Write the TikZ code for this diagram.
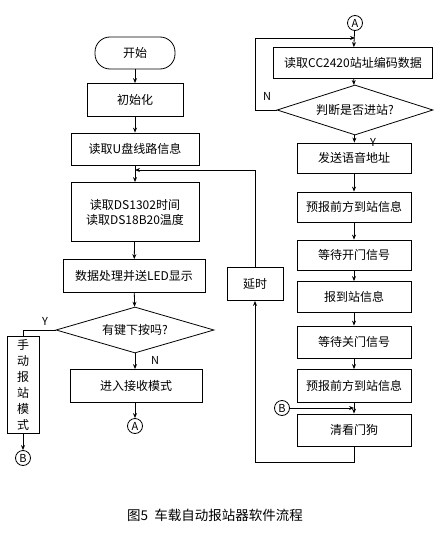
\documentclass[tikz,border=0pt]{standalone}
\usepackage{fontspec}
\setmainfont{Noto Sans CJK SC}
\usetikzlibrary{shapes.geometric,arrows.meta,calc}
\tikzset{
  base/.style={draw, line width=0.8pt, inner sep=0pt, font=\fontsize{12}{15}\selectfont, align=center},
  procbox/.style={base, rectangle},
  termbox/.style={base, rectangle, rounded corners=15pt},
  decbox/.style={base, diamond, aspect=3.4},
  conn/.style={base, circle, minimum size=15pt, font=\fontsize{11}{12}\selectfont},
  flow/.style={line width=0.8pt, -{Stealth[length=5pt,width=4pt]}},
  plain/.style={line width=0.8pt},
  lbl/.style={font=\fontsize{11}{12}\selectfont, inner sep=1pt}
}
\begin{document}
\begin{tikzpicture}[x=1pt,y=-1pt]
\useasboundingbox[fill=white] (0,0) rectangle (441,535);
% left column
\node[termbox, minimum width=80pt, minimum height=32pt] (start) at (135,53) {开始};
\node[procbox, minimum width=96pt, minimum height=33pt] (init) at (135,100) {初始化};
\node[procbox, minimum width=128pt, minimum height=32pt] (udisk) at (135,149) {读取U盘线路信息};
\node[procbox, minimum width=128pt, minimum height=59pt] (ds) at (135,212) {读取DS1302时间\\读取DS18B20温度};
\node[procbox, minimum width=142pt, minimum height=33pt] (led) at (134,276) {数据处理并送LED显示};
\node[decbox, minimum width=158pt, minimum height=46pt] (key) at (135,330) {有键下按吗?};
\node[procbox, minimum width=132pt, minimum height=33pt] (recv) at (136,386) {进入接收模式};
\node[conn] (A1) at (135,426) {A};
\node[procbox, minimum width=32pt, minimum height=97pt, font=\fontsize{12}{16}\selectfont] (manual) at (23,385) {手\\动\\报\\站\\模\\式};
\node[conn] (B1) at (23,458) {B};
% right column
\node[conn] (A2) at (355,23) {A};
\node[procbox, minimum width=159pt, minimum height=31pt] (cc) at (353,63) {读取CC2420站址编码数据};
\node[decbox, minimum width=156pt, minimum height=50pt] (enter) at (355,110) {判断是否进站?};
\node[procbox, minimum width=114pt, minimum height=30pt] (voice) at (354,158) {发送语音地址};
\node[procbox, minimum width=114pt, minimum height=30pt] (pre1) at (354,207) {预报前方到站信息};
\node[procbox, minimum width=114pt, minimum height=30pt] (open) at (354,255) {等待开门信号};
\node[procbox, minimum width=114pt, minimum height=31pt] (arrive) at (354,297) {报到站信息};
\node[procbox, minimum width=114pt, minimum height=32pt] (close) at (354,342) {等待关门信号};
\node[procbox, minimum width=114pt, minimum height=33pt] (pre2) at (354,386) {预报前方到站信息};
\node[procbox, minimum width=114pt, minimum height=32pt] (wdog) at (354,430) {清看门狗};
\node[procbox, minimum width=56pt, minimum height=33pt] (delay) at (255,284) {延时};
\node[conn] (B2) at (282,408) {B};
% caption
\node[font=\fontsize{13.5}{15}\selectfont, inner sep=0pt] (cap) at (215,515) {图5\ \ 车载自动报站器软件流程};
% labels
\node[lbl] (ylbl1) at (45,321) {Y};
\node[lbl] (nlbl1) at (155,360) {N};
\node[lbl] (nlbl2) at (267,96) {N};
\node[lbl] (ylbl2) at (373,142) {Y};
% junction coordinates
\coordinate (jA) at (355,38);
\coordinate (jB) at (354,408);
\coordinate (jD) at (135,170);
\coordinate (bot) at (354,462);
\coordinate (loopx) at (255,0);
% left connectors
\draw[flow] (start) -- (init);
\draw[flow] (init) -- (udisk);
\draw[flow] (udisk) -- (ds);
\draw[flow] (ds) -- (led);
\draw[flow] (led) -- (key);
\draw[flow] (key) -- (key.south |- recv.north);
\draw[flow] (recv.south -| A1) -- (A1);
\draw[plain] (key.west) -| (manual.north);
\draw[flow] (manual) -- (B1);
% right connectors
\draw[flow] (A2) -- (cc);
\draw[flow] (enter.west) -- (loopx |- enter.west) |- (jA);
\draw[flow] (cc) -- (enter);
\draw[flow] (enter) -- (voice);
\draw[flow] (voice) -- (pre1);
\draw[flow] (pre1) -- (open);
\draw[flow] (open) -- (arrive);
\draw[flow] (arrive) -- (close);
\draw[flow] (close) -- (pre2);
\draw[flow] (pre2) -- (wdog);
\draw[flow] (B2) -- (jB);
\draw[flow] (wdog) -- (bot) -| (delay.south);
\draw[flow] (delay.north) |- (jD);
\end{tikzpicture}
\end{document}
